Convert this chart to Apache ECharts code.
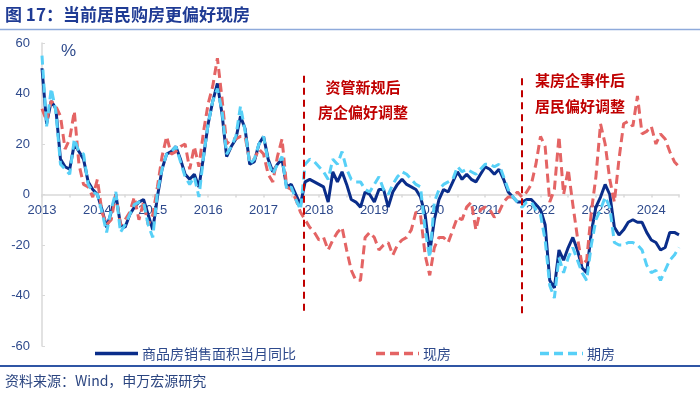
<!DOCTYPE html>
<html><head><meta charset="utf-8">
<script src="https://cdn.jsdelivr.net/npm/echarts@6/dist/echarts.min.js"></script>
<style>html,body{margin:0;padding:0;background:#fff}#c{width:700px;height:395px}</style>
</head><body><div id="c"></div>
<script>
// monthly categories 2013-01 .. 2024-07
const months = [];
for (let y = 2013; y <= 2024; y++) for (let m = 1; m <= 12; m++) { if (y === 2024 && m > 7) break; months.push(y + '-' + String(m).padStart(2, '0')); }

const seriesNames = ['商品房销售面积当月同比', '现房', '期房'];

const totalYoY = [50,28,37,34,14,11,10,20,17,14,5,2,0,-6,-13,-7,0,-12,-13,-8,-5,-3,-2,-8,-14,-1,10,16,17,19,14,8,6,8,3,15,28,37,44,32,15,19,22,31,26,12,13,20,23,14,9,12,14,3,4,0,-4,5,6,5,4,3,-3,9,5,9,4,-2,-3,-5,1,0,-3,2,2,-5,1,4,6,4,3,2,-1,-8,-23,-10,-2,2,1,5,9,6,8,6,5,8,11,10,8,10,6,1,-1,-3,-3,-2,-2,-4,-6,-12,-34,-37,-22,-26,-21,-17,-22,-29,-31,-15,-5,-1,4,0,-13,-16,-14,-11,-10,-11,-11,-15,-18,-19,-22,-21,-15,-15,-16];

const completedYoY = [34,29,37,35,31,18,22,33,12,4,3,-1,6,-7,-12,-10,0,-12,-10,-7,-1,-10,-3,-12,-8,3,15,23,16,17,19,20,10,19,11,25,36,43,54,38,20,22,22,23,23,13,14,18,16,8,5,15,22,3,2,-2,-7,-10,-13,-15,-18,-17,-22,-18,-15,-13,-22,-30,-34,-34,-17,-15,-17,-22,-20,-19,-24,-20,-18,-17,-14,-7,-8,-24,-32,-21,-17,-17,-19,-14,-9,-10,-5,-3,-14,-6,-5,-6,-9,-7,-3,-1,-1,1,-1,1,4,12,23,19,-3,2,23,0,10,-4,-17,-28,-26,-7,7,28,20,6,-3,14,28,29,27,39,24,25,27,20,24,22,17,13,11];

const presaleYoY = [55,27,42,33,12,10,8,22,17,16,4,1,0,-7,-15,-6,1,-15,-12,-8,-4,-3,-3,-12,-17,1,10,16,17,19,13,7,4,7,-1,15,28,37,42,33,16,19,23,35,25,12,14,20,23,13,8,12,15,2,3,-2,-6,12,14,13,11,9,6,14,12,17,10,6,5,5,2,1,4,7,2,0,4,7,9,8,6,4,3,-14,-25,-3,2,4,5,6,11,9,10,9,8,10,12,12,11,12,7,2,-1,-3,-5,-3,-3,-6,-8,-18,-36,-41,-25,-31,-25,-21,-26,-31,-34,-20,-10,-6,-1,-5,-19,-20,-20,-19,-19,-20,-22,-28,-31,-30,-34,-30,-26,-24,-21];

const yTicks = [-60, -40, -20, 0, 20, 40, 60];
const eventLines = [
  { x: 56.6, top: 47, bottom: -48, text: ['资管新规后', '房企偏好调整'] },
  { x: 104, top: 46, bottom: -49, text: ['某房企事件后', '居民偏好调整'] }
];

const txtColor = '#2e4a8c';
const colors = ['#0a2d8a', '#e46464', '#57d0f7'];
const dashes = [null, [9, 5], [9, 5]];
const chart = echarts.init(document.getElementById('c'), null, { renderer: 'canvas' });

const grid = { left: 42, right: 21, top: 43, bottom: 49 };
const yMin = yTicks[0], yMax = yTicks[yTicks.length - 1];
const gridH = 395 - grid.top - grid.bottom;
// place the category axis on the zero line of the value axis
const zeroOffset = -gridH * (0 - yMin) / (yMax - yMin);

// legend drawn as graphic items (line sample + label)
const legendX = [95, 376, 540];
const legendGraphics = [];
seriesNames.forEach((n, k) => {
  legendGraphics.push({ type: 'line', shape: { x1: legendX[k], y1: 353.5, x2: legendX[k] + 43, y2: 353.5 },
    style: { stroke: colors[k], lineWidth: 3.5, lineDash: dashes[k] || null } });
  legendGraphics.push({ type: 'text', x: legendX[k] + 47, y: 354, style: { text: n, fill: txtColor, font: '14px "Noto Sans CJK SC"', verticalAlign: 'middle' } });
});

chart.setOption({
  animation: false,
  backgroundColor: '#fff',
  grid: grid,
  xAxis: [{
    type: 'category', data: months, boundaryGap: false, position: 'bottom', offset: zeroOffset,
    axisLine: { onZero: false, lineStyle: { color: '#d9d9d9', width: 1.5 } },
    axisTick: { show: true, interval: 5, length: 3, lineStyle: { color: '#d9d9d9', width: 1.5 } },
    splitLine: { show: false },
    axisLabel: {
      color: txtColor, fontSize: 13, fontFamily: 'Liberation Sans', margin: 9, interval: 11,
      formatter: v => v.slice(0, 4)
    }
  }, {
    type: 'value', min: 0, max: months.length - 1, show: false
  }],
  yAxis: {
    type: 'value', min: yMin, max: yMax, interval: 20,
    axisLine: { show: true, onZero: false, lineStyle: { color: '#d9d9d9', width: 1.5 } },
    axisTick: { show: true, inside: true, length: 3, lineStyle: { color: '#d9d9d9' } },
    splitLine: { show: false },
    axisLabel: { color: txtColor, fontSize: 13, fontFamily: 'Liberation Sans', margin: 12 }
  },
  series: [
    { name: seriesNames[0], type: 'line', data: totalYoY, symbol: 'none', z: 2,
      lineStyle: { color: colors[0], width: 3 } },
    { name: seriesNames[1], type: 'line', data: completedYoY, symbol: 'none', z: 3,
      lineStyle: { color: colors[1], width: 3, type: dashes[1] } },
    { name: seriesNames[2], type: 'line', data: presaleYoY, symbol: 'none', z: 4,
      lineStyle: { color: colors[2], width: 3, type: dashes[2] } },
    { name: 'events', type: 'line', xAxisIndex: 1, data: [], symbol: 'none',
      markLine: {
        silent: true, symbol: 'none', label: { show: false },
        lineStyle: { color: '#c00000', type: [7, 5], width: 2 },
        data: eventLines.map(e => [{ coord: [e.x, e.top] }, { coord: [e.x, e.bottom] }])
      }
    }
  ],
  graphic: [
    { type: 'text', left: 5, top: 6, style: { text: '图 17：当前居民购房更偏好现房', fill: '#1f3b94', font: 'bold 17px "Noto Sans CJK SC"' } },
    { type: 'line', shape: { x1: 0, y1: 29.5, x2: 700, y2: 29.5 }, style: { stroke: '#8eaadb', lineWidth: 1.5 } },
    { type: 'text', left: 61, top: 43, style: { text: '%', fill: txtColor, font: '17px "Liberation Sans"' } },
    { type: 'text', x: 363, y: 87, style: { text: eventLines[0].text[0], fill: '#c00000', font: 'bold 15px "Noto Sans CJK SC"', align: 'center', verticalAlign: 'middle' } },
    { type: 'text', x: 363, y: 112, style: { text: eventLines[0].text[1], fill: '#c00000', font: 'bold 15px "Noto Sans CJK SC"', align: 'center', verticalAlign: 'middle' } },
    { type: 'text', x: 580, y: 80, style: { text: eventLines[1].text[0], fill: '#c00000', font: 'bold 15px "Noto Sans CJK SC"', align: 'center', verticalAlign: 'middle' } },
    { type: 'text', x: 580, y: 106, style: { text: eventLines[1].text[1], fill: '#c00000', font: 'bold 15px "Noto Sans CJK SC"', align: 'center', verticalAlign: 'middle' } },
    { type: 'line', shape: { x1: 0, y1: 366, x2: 700, y2: 366 }, style: { stroke: '#2f55a4', lineWidth: 2 } },
    { type: 'text', left: 5, top: 374, style: { text: '资料来源：Wind，申万宏源研究', fill: '#2b4580', font: '14px "Noto Sans CJK SC"' } }
  ].concat(legendGraphics)
});
</script></body></html>
